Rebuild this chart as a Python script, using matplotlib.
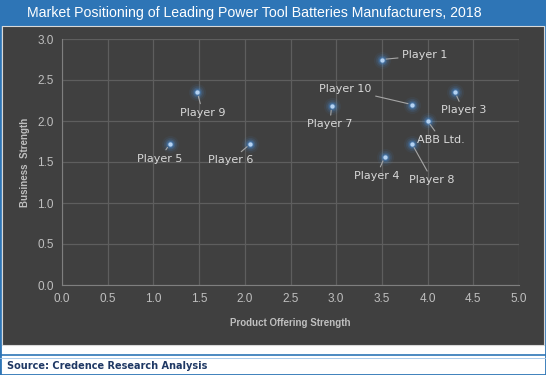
import matplotlib.pyplot as plt
from matplotlib.patches import Rectangle

players = ['Player 1', 'Player 10', 'Player 3', 'Player 7', 'ABB Ltd.',
           'Player 8', 'Player 4', 'Player 9', 'Player 5', 'Player 6']
product_strength = [3.50, 3.83, 4.30, 2.95, 4.00, 3.83, 3.53, 1.48, 1.18, 2.06]
business_strength = [2.75, 2.20, 2.35, 2.18, 2.00, 1.72, 1.56, 2.35, 1.72, 1.72]
# label positions (data coords, text centre)
label_x = [3.97, 3.10, 4.39, 2.93, 4.15, 4.05, 3.44, 1.54, 1.07, 1.85]
label_y = [2.80, 2.39, 2.13, 1.96, 1.77, 1.28, 1.33, 2.10, 1.54, 1.52]

fig = plt.figure(figsize=(5.46, 3.75), dpi=100)
W, H = 546, 375

def px(x, y, w, h):
    return (x / W, 1 - (y + h) / H, w / W, h / H)

# outer frame / title bar / panel (behind the axes)
fig.patches.append(Rectangle((0, 0), 1, 1, transform=fig.transFigure,
                             facecolor='white', edgecolor='#2e75b6', lw=2, zorder=-3))
x0, y0, w0, h0 = px(0, 0, 546, 26)
fig.patches.append(Rectangle((x0, y0), w0, h0, transform=fig.transFigure,
                             facecolor='#2e75b6', edgecolor='none', zorder=-2))
x0, y0, w0, h0 = px(2, 26, 542, 319)
fig.patches.append(Rectangle((x0, y0), w0, h0, transform=fig.transFigure,
                             facecolor='#404040', edgecolor='#d9d9d9', lw=0.8, zorder=-2))
fig.add_artist(plt.Line2D([0, 1], [1 - 355 / H, 1 - 355 / H], transform=fig.transFigure,
                          color='#2e75b6', lw=1.2))
fig.add_artist(plt.Line2D([0, 1], [1 - 358 / H, 1 - 358 / H], transform=fig.transFigure,
                          color='#9dc3e6', lw=0.6))

fig.text(254 / W, 1 - 13 / H, 'Market Positioning of Leading Power Tool Batteries Manufacturers, 2018',
         ha='center', va='center', color='white', fontsize=10.2, family='Liberation Sans')
fig.text(7 / W, 1 - 366 / H, 'Source: Credence Research Analysis', ha='left', va='center',
         color='#1f3864', fontsize=7, fontweight='bold', family='DejaVu Sans')

ax = fig.add_axes(px(62, 39, 457, 246))
ax.set_facecolor('#404040')
ax.set_xlim(0, 5)
ax.set_ylim(0, 3)
ax.set_xticks([i * 0.5 for i in range(11)])
ax.set_yticks([i * 0.5 for i in range(7)])
ax.xaxis.set_major_formatter('{x:.1f}')
ax.yaxis.set_major_formatter('{x:.1f}')
ax.grid(True, color='#5e5e5e', lw=0.9)
ax.set_axisbelow(True)
for s in ['top', 'right']:
    ax.spines[s].set_visible(False)
for s in ['left', 'bottom']:
    ax.spines[s].set_color('#7f7f7f')
ax.tick_params(length=0, colors='#bfbfbf', labelsize=8.5, pad=6)
for lbl in ax.get_xticklabels() + ax.get_yticklabels():
    lbl.set_family('Liberation Sans')
ax.set_xlabel('Product Offering Strength', color='#bfbfbf', fontsize=7,
              fontweight='bold', labelpad=9, family='Liberation Sans')
ax.set_ylabel('Business  Strength', color='#bfbfbf', fontsize=7,
              fontweight='bold', labelpad=5, family='Liberation Sans')

# glow + dots
for size, alpha in [(150, 0.07), (90, 0.12), (50, 0.22), (25, 0.4)]:
    ax.scatter(product_strength, business_strength, s=size, color='#4a8fd8',
               alpha=alpha, lw=0, zorder=3)
ax.scatter(product_strength, business_strength, s=10, color='#b4d2f2',
           lw=0, zorder=4)

for name, x, y, lx, ly in zip(players, product_strength, business_strength, label_x, label_y):
    ax.annotate(name, (x, y), xytext=(lx, ly), ha='center', va='center',
                color='#d9d9d9', fontsize=8, zorder=5,
                arrowprops=dict(arrowstyle='-', color='#a6a6a6', lw=0.8,
                                shrinkA=1, shrinkB=3))

fig.savefig('out.png', dpi=100)
